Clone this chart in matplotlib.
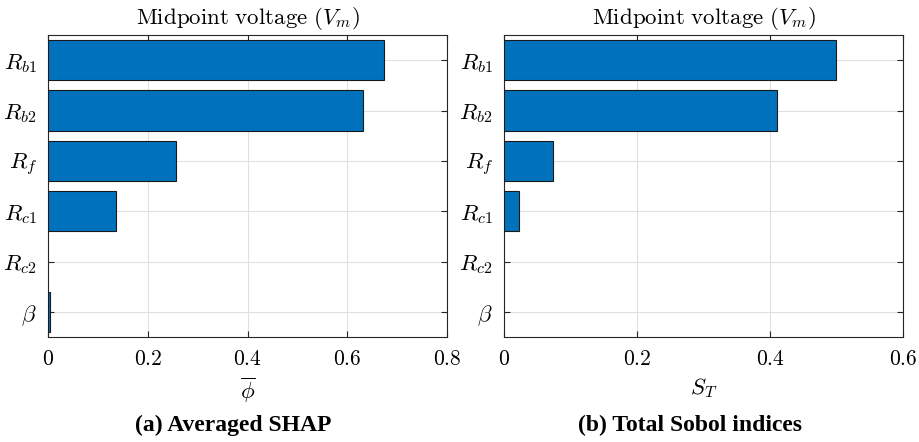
import matplotlib.pyplot as plt
import numpy as np

plt.rcParams['mathtext.fontset'] = 'cm'
plt.rcParams['font.family'] = 'serif'
plt.rcParams['font.serif'] = ['DejaVu Serif']

labels = [r'$R_{b1}$', r'$R_{b2}$', r'$R_f$', r'$R_{c1}$', r'$R_{c2}$', r'$\beta$']
shap = [0.674, 0.632, 0.257, 0.136, 0.0, 0.004]
sobol = [0.499, 0.411, 0.074, 0.0226, 0.0, 0.0]

shap_ticks = [0, 0.2, 0.4, 0.6, 0.8]
shap_ticklabels = [r'$0$', r'$0.2$', r'$0.4$', r'$0.6$', r'$0.8$']
sobol_ticks = [0, 0.2, 0.4, 0.6]
sobol_ticklabels = [r'$0$', r'$0.2$', r'$0.4$', r'$0.6$']

bar_color = '#0072BD'
axis_color = '#262626'

fig = plt.figure(figsize=(9.19, 4.42), dpi=100)
ax1 = fig.add_axes([48/919, 1-337/442, 399/919, 302/442])
ax2 = fig.add_axes([504/919, 1-337/442, 399/919, 302/442])


def draw(ax, vals, xmax, ticks, ticklabels, xlabel):
    y = np.arange(1, len(vals)+1)
    lw = [0.8 if v > 0 else 0 for v in vals]
    ax.barh(y, vals, height=0.8, color=bar_color, edgecolor='#1a1a1a', linewidth=lw, zorder=3)
    ax.set_ylim(len(vals)+0.5, 0.5)
    ax.set_xlim(0, xmax)
    ax.set_yticks(y)
    ax.set_yticklabels(labels, fontsize=16.5)
    ax.set_xticks(ticks)
    ax.set_xticklabels(ticklabels, fontsize=15.5)
    ax.tick_params(direction='in', top=True, right=True, length=4.5, width=0.8,
                   color=axis_color, pad=8)
    ax.grid(True, color='#e0e0e0', linewidth=0.8, zorder=0)
    for s in ax.spines.values():
        s.set_color(axis_color)
        s.set_linewidth(0.8)
    ax.set_xlabel(xlabel, fontsize=16.5, labelpad=4)
    ax.set_title(r'$\mathrm{Midpoint\ voltage\ }(V_m)$', fontsize=16.5, pad=8)


draw(ax1, shap, 0.8, shap_ticks, shap_ticklabels, r'$\overline{\phi}$')
draw(ax2, sobol, 0.6, sobol_ticks, sobol_ticklabels, r'$S_T$')

fig.text(233/919, 1-425/442, '(a) Averaged SHAP', ha='center', va='center',
         family='Liberation Serif', fontweight='bold', fontsize=17)
fig.text(690/919, 1-425/442, '(b) Total Sobol indices', ha='center', va='center',
         family='Liberation Serif', fontweight='bold', fontsize=17)

fig.savefig('out.png', dpi=100)
